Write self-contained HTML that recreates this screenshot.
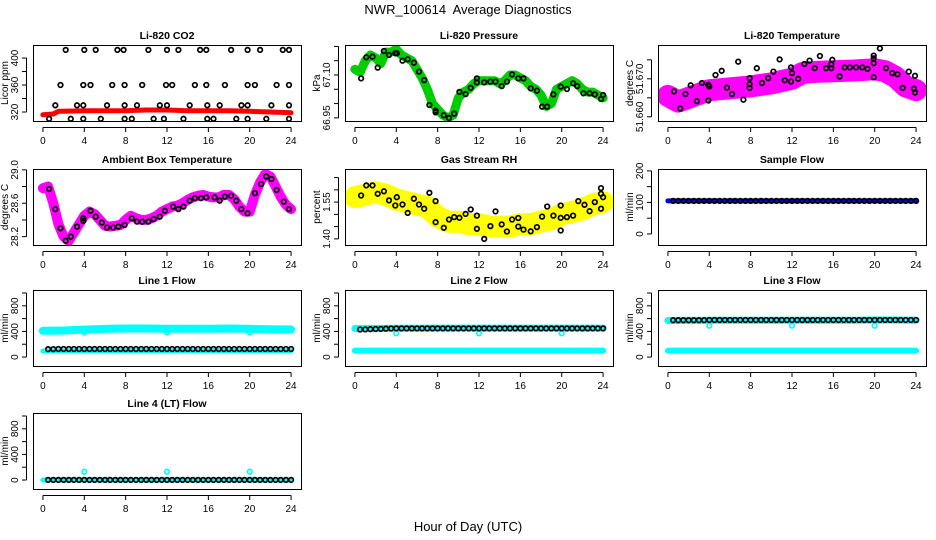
<!DOCTYPE html>
<html><head><meta charset="utf-8"><style>
html,body{margin:0;padding:0;background:#fff}
svg{display:block;font-family:"Liberation Sans",sans-serif}
</style></head><body>
<svg id="chart" width="936" height="540" viewBox="0 0 936 540" xmlns="http://www.w3.org/2000/svg">
<text x="468" y="14" text-anchor="middle" font-size="13" xml:space="preserve">NWR_100614  Average Diagnostics</text>
<text x="468" y="531" text-anchor="middle" font-size="13">Hour of Day (UTC)</text>
</svg>
<script>
// ---- data ----
const xTicks = [0,4,8,12,16,20,24];
// CO2
const co2Hours = [2.2,4.0,5.1,7.2,7.8,10.2,12.0,13.1,15.2,15.8,18.2,19.8,21.0,23.2,23.8,
 1.7,3.9,4.6,6.7,7.9,9.6,11.9,12.5,14.7,15.8,17.6,19.8,20.5,22.6,23.8,
 1.2,3.3,3.9,6.2,7.9,9.1,11.3,12.0,14.2,15.9,17.1,19.2,19.8,22.1,23.8,
 0.6,2.7,3.9,5.6,7.9,8.6,10.7,11.7,13.6,15.9,16.5,18.7,19.8,21.6,23.8];
const co2Values = [412,412,412,412,412,412,412,412,412,412,412,412,412,412,412,
 360,360,360,360,360,360,360,360,360,360,360,360,360,360,360,
 330,330,330,330,330,330,330,330,330,330,330,330,330,330,330,
 310,310,310,310,310,310,310,310,310,310,310,310,310,310,310];
const co2BandHours = [0,1,1.5,2,4,6,8,10,12,14,16,18,20,22,24];
const co2BandValues = [316,317,321,321,322,322,322,323,323,322,322,322,321,320,319];
// Pressure
const presHours = [0.6,1.1,1.7,2.2,2.8,3.3,3.9,4.05,4.6,5.1,5.7,6.2,6.7,7.2,7.8,7.8,8.6,9.1,9.6,10.1,10.7,11.2,11.8,11.8,12.5,13.1,13.6,14.2,14.7,15.2,15.8,16.3,17.0,17.6,18.1,18.6,19.2,19.9,20.5,21.1,21.5,22.1,22.7,23.2,23.8,24.0];
const presValues = [67.088,67.162,67.164,67.126,67.184,67.170,67.176,67.176,67.150,67.155,67.143,67.112,67.082,66.995,66.969,66.975,66.959,66.950,66.965,67.041,67.033,67.055,67.088,67.074,67.074,67.077,67.077,67.061,67.077,67.102,67.088,67.088,67.053,67.045,66.989,66.989,67.032,67.059,67.051,67.071,67.061,67.036,67.036,67.032,67.016,67.030];
const presBandHours = [0,0.5,1,1.5,2,2.5,3,3.5,4,4.5,5,5.5,6,6.5,7,7.5,8,8.5,9,9.5,10,10.5,11,11.5,12,12.5,13,13.5,14,14.5,15,15.5,16,16.5,17,17.5,18,18.5,19,19.5,20,20.5,21,21.5,22,22.5,23,23.5,24];
const presBandValues = [67.12,67.11,67.15,67.17,67.16,67.14,67.18,67.18,67.19,67.17,67.16,67.15,67.12,67.09,67.05,67.00,66.98,66.96,66.95,66.96,67.02,67.04,67.05,67.07,67.08,67.08,67.08,67.08,67.07,67.08,67.10,67.10,67.09,67.08,67.06,67.05,67.03,66.99,67.00,67.05,67.06,67.07,67.08,67.07,67.05,67.04,67.04,67.03,67.02];
// Li-820 temperature
const ltHours = [0.6,1.2,1.7,2.2,2.8,3.3,3.9,3.9,4.0,4.6,5.2,5.7,6.2,6.8,7.3,7.9,7.9,7.9,8.6,9.1,9.7,10.2,10.8,11.3,11.9,11.9,12.0,12.6,13.2,13.7,14.2,14.7,15.3,15.8,15.8,15.9,16.6,17.1,17.6,18.2,18.8,19.3,19.9,19.9,19.9,19.9,20.5,21.1,21.7,22.2,22.7,23.3,23.8,23.9,23.9];
const ltValues = [51.6667,51.6622,51.6660,51.6683,51.6641,51.6689,51.6643,51.6684,51.6680,51.6710,51.6721,51.6677,51.6660,51.6745,51.6645,51.6702,51.6686,51.6676,51.6728,51.6689,51.6702,51.6719,51.6751,51.6696,51.6693,51.6730,51.6715,51.6700,51.6739,51.6748,51.6728,51.6760,51.6728,51.6738,51.6728,51.6750,51.6706,51.6730,51.6730,51.6730,51.6730,51.6726,51.6704,51.6741,51.6754,51.6761,51.6780,51.6728,51.6715,51.6712,51.6676,51.6719,51.6674,51.6664,51.6708];
const ltBandHours = [0,1,2,3,4,6,8,10,12,13,14,16,18,20,21,22,23,24];
const ltBandValues = [51.6655,51.6640,51.6650,51.6660,51.6670,51.6675,51.6680,51.6688,51.6700,51.6715,51.6718,51.6720,51.6722,51.6725,51.6720,51.6705,51.6680,51.6670];
// Ambient box temperature
const ambHours = [0.6,1.2,1.7,2.2,2.7,3.3,3.9,3.9,4.6,5.1,5.7,6.2,6.8,7.3,7.9,8.6,9.1,9.6,10.2,10.7,11.3,11.8,12.6,13.1,13.6,14.2,14.7,15.3,15.8,16.6,17.1,17.6,18.2,18.7,19.2,19.8,20.5,21.1,21.6,22.1,22.6,23.3,23.8];
const ambValues = [28.77,28.53,28.30,28.15,28.20,28.32,28.39,28.42,28.51,28.44,28.37,28.31,28.31,28.32,28.34,28.42,28.38,28.38,28.38,28.41,28.44,28.51,28.56,28.53,28.56,28.63,28.66,28.66,28.67,28.67,28.63,28.68,28.69,28.63,28.53,28.48,28.72,28.83,28.92,28.89,28.76,28.62,28.53];
const ambBandHours = [0,0.5,1,1.5,2,2.5,3,3.5,4,4.5,5,5.5,6,6.5,7,7.5,8,8.5,9,9.5,10,10.5,11,11.5,12,12.5,13,13.5,14,14.5,15,15.5,16,16.5,17,17.5,18,18.5,19,19.5,20,20.5,21,21.5,22,22.5,23,23.5,24];
const ambBandValues = [28.78,28.80,28.60,28.35,28.20,28.15,28.25,28.35,28.45,28.50,28.47,28.40,28.33,28.32,28.33,28.34,28.40,28.45,28.42,28.40,28.40,28.42,28.45,28.50,28.53,28.56,28.57,28.60,28.64,28.67,28.69,28.70,28.68,28.67,28.67,28.70,28.70,28.65,28.56,28.50,28.50,28.70,28.85,28.95,28.92,28.80,28.68,28.58,28.53];
// Gas stream RH
const rhHours = [0.6,1.1,1.7,2.2,2.8,3.3,3.9,4.05,4.6,5.1,5.7,6.2,6.7,7.2,7.8,7.8,8.6,9.1,9.6,10.1,10.7,11.2,11.8,11.8,12.5,13.1,13.6,14.2,14.7,15.2,15.8,15.8,16.3,17.0,17.6,18.1,18.6,19.2,19.9,19.9,19.9,20.5,21.1,21.6,22.2,22.7,23.2,23.8,23.8,24.0,23.8];
const rhValues = [1.577,1.618,1.618,1.584,1.594,1.557,1.536,1.570,1.540,1.506,1.564,1.540,1.523,1.588,1.554,1.468,1.445,1.479,1.489,1.486,1.502,1.520,1.495,1.441,1.400,1.452,1.512,1.459,1.430,1.479,1.485,1.450,1.438,1.431,1.448,1.491,1.532,1.495,1.536,1.486,1.434,1.489,1.495,1.554,1.539,1.513,1.550,1.607,1.584,1.570,1.523];
const rhBandHours = [0,1,2,3,4,5,6,7,8,9,10,11,12,13,14,15,16,17,18,19,20,21,22,23,24];
const rhBandValues = [1.57,1.58,1.59,1.58,1.56,1.55,1.54,1.53,1.49,1.47,1.47,1.46,1.46,1.45,1.45,1.45,1.46,1.46,1.47,1.48,1.50,1.51,1.52,1.54,1.55];
// Flows (black points every 0.5 h)
const flowHours = [0.5,1,1.5,2,2.5,3,3.5,4,4.5,5,5.5,6,6.5,7,7.5,8,8.5,9,9.5,10,10.5,11,11.5,12,12.5,13,13.5,14,14.5,15,15.5,16,16.5,17,17.5,18,18.5,19,19.5,20,20.5,21,21.5,22,22.5,23,23.5,24];
const sampleValues = [105,105,105,105,105,105,105,105,105,105,105,105,105,105,105,105,105,105,105,105,105,105,105,105,105,105,105,105,105,105,105,105,105,105,105,105,105,105,105,105,105,105,105,105,105,105,105,105];
const line1Values = [122,124,125,125,126,126,126,126,126,126,126,126,126,126,126,126,126,126,126,126,126,126,126,126,126,126,126,126,126,126,126,126,126,126,126,126,126,126,126,126,126,126,126,126,126,126,126,126];
const line2Values = [430,432,435,438,440,442,445,448,448,448,448,448,448,448,448,448,448,448,448,448,448,448,448,448,448,448,448,448,448,448,448,448,448,448,448,448,448,448,448,448,448,448,448,448,448,448,448,448];
const line3Values = [575,575,575,575,575,575,575,578,578,578,578,578,578,578,578,578,578,578,578,578,578,578,578,578,578,578,578,578,578,578,578,578,578,578,578,578,578,578,578,578,578,578,578,578,578,578,578,578];
const line4Values = [2,2,2,2,2,2,2,2,2,2,2,2,2,2,2,2,2,2,2,2,2,2,2,2,2,2,2,2,2,2,2,2,2,2,2,2,2,2,2,2,2,2,2,2,2,2,2,2];
const bandHours = [0,2,4,6,8,10,12,14,16,18,20,22,24];
const sampleBand = [105,105,105,105,105,105,105,105,105,105,105,105,105];
const line1Upper = [410,415,428,440,445,445,443,442,443,445,440,433,430];
const line1Lower = [95,98,100,100,100,100,100,100,100,100,100,100,100];
const line2Upper = [445,448,450,450,452,452,452,452,452,452,452,452,452];
const line2Lower = [100,100,100,100,100,100,100,100,100,100,100,100,100];
const line3Upper = [570,572,575,575,575,575,575,575,575,575,578,578,575];
const line3Lower = [100,100,100,100,100,100,100,100,100,100,100,100,100];
const line4Band = [0,0,0,0,0,0,0,0,0,0,0,0,0];
const outlierHours = [4,12,20];
const line1Outliers = [385,385,385];
const line2Outliers = [370,370,370];
const line3Outliers = [490,490,490];
const line4Outliers = [130,130,130];

// ---- drawing ----
const svg = document.getElementById('chart');
const NS = 'http://www.w3.org/2000/svg';
const colX = [33,345,658], rowY = [45,169,290,413], PW = 268, PH = 76;
function mk(tag, attrs, parent){const e=document.createElementNS(NS,tag);for(const k in attrs)e.setAttribute(k,attrs[k]);(parent||svg).appendChild(e);return e;}

function panel(cfg){
  const L=colX[cfg.col], T=rowY[cfg.row];
  const g=mk('g',{});
  
  
  const sx=h=>L+(h+0.96)/25.92*PW;
  const sy=v=>T+(cfg.ymax-v)/(cfg.ymax-cfg.ymin)*PH;
  const clip='c'+cfg.name;
  const cp=mk('clipPath',{id:clip},g); mk('rect',{x:L,y:T,width:PW,height:PH},cp);
  const pg=mk('g',{'clip-path':'url(#'+clip+')'},g);
  (cfg.bands||[]).forEach(b=>{
    const n=Math.min(b.h.length,b.v.length);
    const pts=[];for(let i=0;i<n;i++)pts.push(sx(b.h[i]).toFixed(1)+','+sy(b.v[i]).toFixed(1));
    const pl=mk('polyline',{points:pts.join(' '),fill:'none',stroke:b.color,'stroke-width':b.w,'stroke-linejoin':'round','stroke-linecap':'round'},pg);
    
    
  });
  (cfg.points||[]).forEach(p=>{
    const n=Math.min(p.h.length,p.v.length);
    for(let i=0;i<n;i++){
      const c=mk('circle',{cx:sx(p.h[i]).toFixed(1),cy:sy(p.v[i]).toFixed(1),r:2.3,fill:'none',stroke:p.color,'stroke-width':p.sw||1.7},pg);
      
      
    }
  });
  const box=mk('rect',{x:L+0.5,y:T+0.5,width:PW,height:PH,fill:'none',stroke:'#000','stroke-width':1},g);
  
  
  const ttl=mk('text',{x:L+PW/2,y:T-6,'text-anchor':'middle','font-size':10.5,'font-weight':'bold'},g);
  ttl.textContent=cfg.title;
  
  
  const B=T+PH;
  mk('line',{x1:sx(0),x2:sx(24),y1:B+6.5,y2:B+6.5,stroke:'#000'},g);
  xTicks.forEach(t=>{
    mk('line',{x1:sx(t),x2:sx(t),y1:B+6.5,y2:B+11,stroke:'#000'},g);
    const tx=mk('text',{x:sx(t),y:B+23,'text-anchor':'middle','font-size':10},g);
    tx.textContent=t;
    
    
  });
  const ax=L-6.5;
  mk('line',{x1:ax,x2:ax,y1:sy(cfg.ticks[0]),y2:sy(cfg.ticks[cfg.ticks.length-1]),stroke:'#000'},g);
  cfg.ticks.forEach(t=>{mk('line',{x1:ax-4.5,x2:ax,y1:sy(t),y2:sy(t),stroke:'#000'},g);});
  cfg.labels.forEach(t=>{
    const y=sy(t), x=L-15;
    const tx=mk('text',{x:x,y:y,'text-anchor':'middle','font-size':10,transform:'rotate(-90 '+x+' '+y+')'},g);
    tx.textContent=cfg.fmt?cfg.fmt(t):t;
    
    
  });
  const yx=L-25, yy=T+PH/2;
  const yt=mk('text',{x:yx,y:yy,'text-anchor':'middle','font-size':10,transform:'rotate(-90 '+yx+' '+yy+')'},g);
  yt.textContent=cfg.ylab;
  
  
}
const flowTicks=[0,200,400,600,800,1000], flowLabels=[0,400,800];
panel({name:'co2-panel',col:0,row:0,title:'Li-820 CO2',ylab:'Licor ppm',ymin:306.7,ymax:419.3,ticks:[320,340,360,380,400],labels:[320,360,400],
  bands:[{h:co2BandHours,v:co2BandValues,color:'#ff0000',w:5}],points:[{h:co2Hours,v:co2Values,color:'#000'}]});
panel({name:'pressure-panel',col:1,row:0,title:'Li-820 Pressure',ylab:'kPa',ymin:66.939,ymax:67.205,ticks:[66.95,67.0,67.05,67.1,67.15,67.2],labels:[66.95,67.10],fmt:v=>v.toFixed(2),
  bands:[{h:presBandHours,v:presBandValues,color:'#00cc00',w:9}],points:[{h:presHours,v:presValues,color:'#000'}]});
panel({name:'licor-temp-panel',col:2,row:0,title:'Li-820 Temperature',ylab:'degrees C',ymin:51.6589,ymax:51.6789,ticks:[51.66,51.665,51.67,51.675],labels:[51.66,51.67],fmt:v=>v.toFixed(3),
  bands:[{h:ltBandHours,v:ltBandValues,color:'#ff00ff',w:22}],points:[{h:ltHours,v:ltValues,color:'#000'}]});
panel({name:'ambient-temp-panel',col:0,row:1,title:'Ambient Box Temperature',ylab:'degrees C',ymin:28.10,ymax:29.01,ticks:[28.2,28.4,28.6,28.8,29.0],labels:[28.2,28.6,29.0],fmt:v=>v.toFixed(1),
  bands:[{h:ambBandHours,v:ambBandValues,color:'#ff00ff',w:10}],points:[{h:ambHours,v:ambValues,color:'#000'}]});
panel({name:'rh-panel',col:1,row:1,title:'Gas Stream RH',ylab:'percent',ymin:1.375,ymax:1.685,ticks:[1.4,1.45,1.5,1.55,1.6,1.65],labels:[1.40,1.55],fmt:v=>v.toFixed(2),
  bands:[{h:rhBandHours,v:rhBandValues,color:'#ffff00',w:22}],points:[{h:rhHours,v:rhValues,color:'#000'}]});
panel({name:'sample-flow-panel',col:2,row:1,title:'Sample Flow',ylab:'ml/min',ymin:-35,ymax:206,ticks:[0,50,100,150,200],labels:[0,100,200],
  bands:[{h:bandHours,v:sampleBand,color:'#0000ff',w:5}],points:[{h:flowHours,v:sampleValues,color:'#000'}]});
panel({name:'line1-flow-panel',col:0,row:2,title:'Line 1 Flow',ylab:'ml/min',ymin:-140,ymax:1047,ticks:flowTicks,labels:flowLabels,
  bands:[{h:bandHours,v:line1Upper,color:'#00ffff',w:8},{h:bandHours,v:line1Lower,color:'#00ffff',w:5}],
  points:[{h:outlierHours,v:line1Outliers,color:'#00ffff'},{h:flowHours,v:line1Values,color:'#000'}]});
panel({name:'line2-flow-panel',col:1,row:2,title:'Line 2 Flow',ylab:'ml/min',ymin:-140,ymax:1047,ticks:flowTicks,labels:flowLabels,
  bands:[{h:bandHours,v:line2Upper,color:'#00ffff',w:7},{h:bandHours,v:line2Lower,color:'#00ffff',w:6}],
  points:[{h:outlierHours,v:line2Outliers,color:'#00ffff'},{h:flowHours,v:line2Values,color:'#000'}]});
panel({name:'line3-flow-panel',col:2,row:2,title:'Line 3 Flow',ylab:'ml/min',ymin:-140,ymax:1047,ticks:flowTicks,labels:flowLabels,
  bands:[{h:bandHours,v:line3Upper,color:'#00ffff',w:7},{h:bandHours,v:line3Lower,color:'#00ffff',w:6}],
  points:[{h:outlierHours,v:line3Outliers,color:'#00ffff'},{h:flowHours,v:line3Values,color:'#000'}]});
panel({name:'line4-flow-panel',col:0,row:3,title:'Line 4 (LT) Flow',ylab:'ml/min',ymin:-140,ymax:1047,ticks:flowTicks,labels:flowLabels,
  bands:[{h:bandHours,v:line4Band,color:'#00ffff',w:5}],
  points:[{h:outlierHours,v:line4Outliers,color:'#00ffff'},{h:flowHours,v:line4Values,color:'#000'}]});
</script>
</body></html>
